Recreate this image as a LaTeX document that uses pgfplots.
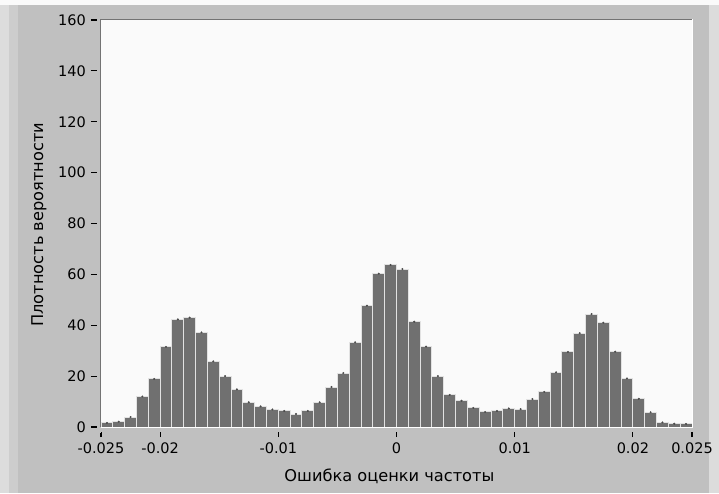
\documentclass[border=0pt]{standalone}
\usepackage{fontspec}
\setmainfont{DejaVu Sans}
\usepackage{pgfplots}
\usepackage{pgfplotstable}
\pgfplotsset{compat=1.18}
\definecolor{panel}{HTML}{C0C0C0}
\definecolor{plotbg}{HTML}{FAFAFA}
\definecolor{barfill}{HTML}{707070}
\definecolor{baredge}{HTML}{E2E2E2}
\definecolor{topmark}{HTML}{4A4A4A}

\pgfplotstableread{
x y
-0.0245 1.6
-0.0235 2.1
-0.0225 3.9
-0.0215 12.0
-0.0205 18.9
-0.0195 31.5
-0.0185 42.3
-0.0175 43.0
-0.0165 37.2
-0.0155 25.8
-0.0145 20.0
-0.0135 14.8
-0.0125 9.7
-0.0115 8.1
-0.0105 6.9
-0.0095 6.3
-0.0085 5.1
-0.0075 6.3
-0.0065 9.7
-0.0055 15.7
-0.0045 21.2
-0.0035 33.3
-0.0025 47.7
-0.0015 60.3
-0.0005 63.7
0.0005 62.1
0.0015 41.4
0.0025 31.6
0.0035 20.0
0.0045 12.6
0.0055 10.3
0.0065 7.5
0.0075 5.9
0.0085 6.3
0.0095 7.3
0.0105 7.0
0.0115 11.0
0.0125 13.8
0.0135 21.5
0.0145 29.5
0.0155 36.9
0.0165 44.4
0.0175 41.0
0.0185 29.6
0.0195 19.1
0.0205 11.1
0.0215 5.8
0.0225 1.8
0.0235 1.3
0.0245 1.2
}\histdata

\begin{document}
\begin{tikzpicture}[x=1pt,y=1pt]
\fill[panel] (0,0) rectangle (719,493);
\fill[panel!55!white] (0,0) rectangle (9,493);
\fill[panel!80!white] (9,0) rectangle (18,493);
\fill[panel!55!white] (709,0) rectangle (719,493);
\fill[white!92!panel] (0,488) rectangle (719,493);
\begin{axis}[
  at={(101pt,66pt)}, anchor=south west,
  scale only axis, width=591pt, height=407pt,
  xmin=-0.025, xmax=0.025, ymin=0, ymax=160,
  axis background/.style={fill=plotbg},
  axis line style={draw=none},
  clip=false,
  scaled x ticks=false, scaled y ticks=false,
  xtick={-0.025,-0.02,-0.01,0,0.01,0.02,0.025},
  xticklabels={-0.025,-0.02,-0.01,0,0.01,0.02,0.025},
  ytick={0,20,40,60,80,100,120,140,160},
  yticklabels={0,20,40,60,80,100,120,140,160},
  tick align=outside,
  major tick length=10pt,
  xtick pos=bottom, ytick pos=left,
  tick style={draw=black, line width=1.1pt},
  ticklabel style={font=\fontsize{14.5}{17}\selectfont, inner sep=0pt},
  yticklabel shift=5pt,
  xticklabel shift=6pt,
  xlabel={Ошибка оценки частоты},
  ylabel={Плотность вероятности},
  every axis x label/.style={at={(axis description cs:0.488,-0.1204)}, anchor=center, font=\fontsize{16.2}{19}\selectfont},
  every axis y label/.style={at={(axis description cs:-0.105,0.497)}, anchor=center, rotate=90, font=\fontsize{16.2}{19}\selectfont},
]
\addplot[ybar, bar width=0.001, bar shift=0pt, fill=barfill, draw=baredge, line width=1pt] table[x=x,y=y] {\histdata};
\addplot[only marks, mark=*, mark size=0.8pt, draw=topmark, fill=topmark] table[x=x,y=y] {\histdata};
\end{axis}
% gaps between ticks and plot area
\fill[panel] (96.5,60) rectangle (100.5,474);
\fill[panel] (96,61.5) rectangle (697,65.5);
% frame of plot area
\draw[line width=1pt, draw=black!55] (100.5,66) -- (100.5,473.5) -- (692.5,473.5);
\draw[line width=1pt, draw=white] (100.5,65.5) -- (692.5,65.5) -- (692.5,473.5);
\end{tikzpicture}
\end{document}
